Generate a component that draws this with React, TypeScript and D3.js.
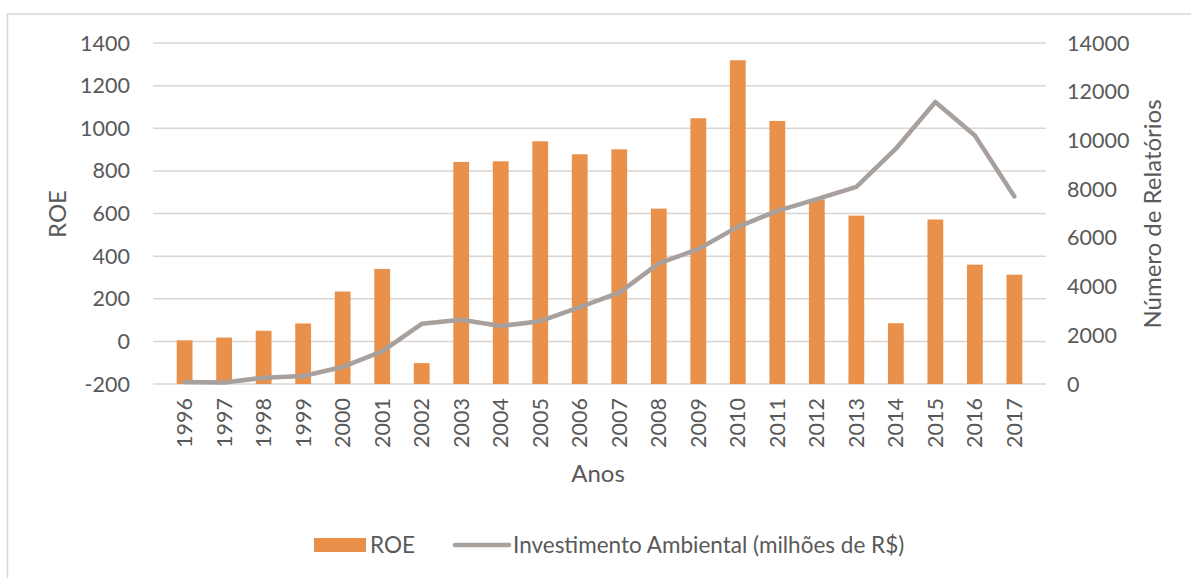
import { useEffect, useRef } from "react";
import * as d3 from "d3";

const years = ["1996", "1997", "1998", "1999", "2000", "2001", "2002", "2003", "2004", "2005", "2006",
  "2007", "2008", "2009", "2010", "2011", "2012", "2013", "2014", "2015", "2016", "2017"];
const roe = [5, 18, 50, 84, 234, 340, -102, 842, 845, 939, 878, 901, 623, 1047, 1319, 1034, 666, 590, 85, 572, 360, 313];
const investimento = [80, 60, 260, 330, 700, 1340, 2470, 2640, 2380, 2580, 3160, 3750, 4950, 5540, 6450, 7110, 7590, 8090, 9660, 11580, 10200, 7700];
const leftTicks = [-200, 0, 200, 400, 600, 800, 1000, 1200, 1400];
const rightTicks = [0, 2000, 4000, 6000, 8000, 10000, 12000, 14000];

const App = () => {
  const ref = useRef<SVGSVGElement>(null);

  useEffect(() => {
    const svg = d3.select(ref.current);
    svg.selectAll("*").remove();

    const left = 153, right = 1046, top = 43, bottom = 384;
    const font = "Lato, 'Open Sans', sans-serif";
    const textColor = "#595959";
    const gridColor = "#D9D5D2";
    const tickSize = 21.5;

    const x = d3.scaleBand().domain(years).range([left, right]).padding(0.6);
    const yL = d3.scaleLinear().domain([-200, 1400]).range([bottom, top]);
    const yR = d3.scaleLinear().domain([0, 14000]).range([bottom, top]);

    // chart border
    svg.append("rect")
      .attr("x", 7.5).attr("y", 14).attr("width", 1200).attr("height", 600)
      .attr("fill", "none").attr("stroke", gridColor).attr("stroke-width", 1.5);

    // gridlines
    svg.append("g").selectAll("line").data(leftTicks).enter().append("line")
      .attr("x1", left).attr("x2", right)
      .attr("y1", d => yL(d)).attr("y2", d => yL(d))
      .attr("stroke", gridColor).attr("stroke-width", 1.5);

    // left axis labels
    svg.append("g").selectAll("text").data(leftTicks).enter().append("text")
      .attr("x", 130).attr("y", d => yL(d))
      .attr("dy", "0.35em").attr("text-anchor", "end")
      .attr("font-family", font).attr("font-size", tickSize).attr("fill", textColor)
      .text(d => d);

    // right axis labels
    svg.append("g").selectAll("text").data(rightTicks).enter().append("text")
      .attr("x", 1067).attr("y", d => yR(d))
      .attr("dy", "0.35em").attr("text-anchor", "start")
      .attr("font-family", font).attr("font-size", tickSize).attr("fill", textColor)
      .text(d => d);

    // bars (from axis crossing at -200)
    svg.append("g").selectAll("rect").data(roe).enter().append("rect")
      .attr("x", (d, i) => x(years[i])!)
      .attr("width", x.bandwidth())
      .attr("y", d => yL(d))
      .attr("height", d => yL(-200) - yL(d))
      .attr("fill", "#E9914A");

    // line
    const line = d3.line<number>()
      .x((d, i) => x(years[i])! + x.bandwidth() / 2)
      .y(d => yR(d));
    svg.append("path").datum(investimento)
      .attr("d", line)
      .attr("fill", "none").attr("stroke", "#A8A09C")
      .attr("stroke-width", 4.5).attr("stroke-linejoin", "round").attr("stroke-linecap", "round");

    // year labels
    svg.append("g").selectAll("text").data(years).enter().append("text")
      .attr("transform", d => `translate(${x(d)! + x.bandwidth() / 2},398) rotate(-90)`)
      .attr("dy", "0.35em").attr("text-anchor", "end")
      .attr("font-family", font).attr("font-size", tickSize).attr("fill", textColor)
      .text(d => d);

    // axis titles
    svg.append("text")
      .attr("transform", "translate(58,214) rotate(-90)")
      .attr("dy", "0.35em").attr("text-anchor", "middle")
      .attr("font-family", font).attr("font-size", 24).attr("fill", textColor)
      .text("ROE");
    svg.append("text")
      .attr("transform", "translate(1153,214) rotate(-90)")
      .attr("dy", "0.35em").attr("text-anchor", "middle")
      .attr("font-family", font).attr("font-size", 24).attr("fill", textColor)
      .text("Número de Relatórios");
    svg.append("text")
      .attr("x", 598).attr("y", 474)
      .attr("dy", "0.35em").attr("text-anchor", "middle")
      .attr("font-family", font).attr("font-size", 24).attr("fill", textColor)
      .text("Anos");

    // legend
    const lg = svg.append("g");
    lg.append("rect").attr("x", 314).attr("y", 538).attr("width", 52).attr("height", 14).attr("fill", "#E9914A");
    lg.append("text").attr("x", 370).attr("y", 545).attr("dy", "0.35em")
      .attr("font-family", font).attr("font-size", 22.5).attr("fill", textColor).text("ROE");
    lg.append("line").attr("x1", 455).attr("x2", 509).attr("y1", 545).attr("y2", 545)
      .attr("stroke", "#A8A09C").attr("stroke-width", 4.5).attr("stroke-linecap", "round");
    lg.append("text").attr("x", 513).attr("y", 545).attr("dy", "0.35em")
      .attr("font-family", font).attr("font-size", 22.5).attr("fill", textColor)
      .text("Investimento Ambiental (milhões de R$)");
  }, []);

  return (
    <svg ref={ref} width={1191} height={578}
      style={{ position: "absolute", left: 0, top: 0, background: "#fff" }} />
  );
};

export default App;
